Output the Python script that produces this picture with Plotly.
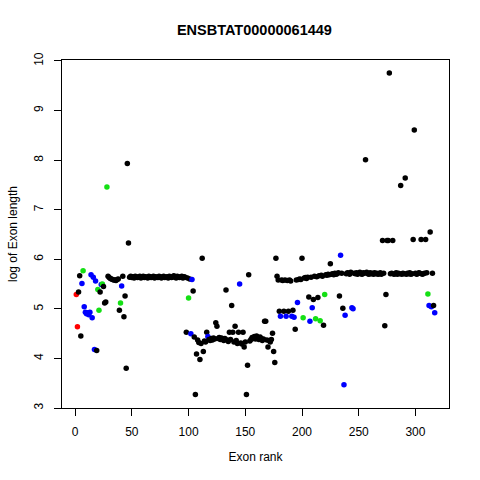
import plotly.graph_objects as go

# log exon length for exon ranks 1..317
log_length = [
    5.29, 4.64, 5.34, 5.67, 4.45, 5.51, 5.77, 5.04, 4.93, 4.90,
    4.92, 4.88, 4.93, 5.69, 4.82, 5.64, 4.18, 5.56, 4.16, 5.39,
    4.97, 5.34, 5.49, 5.50, 5.45, 5.12, 5.14, 7.46, 5.66, 5.63,
    5.61, 5.60, 5.59, 5.58, 5.58, 5.57, 5.59, 5.60, 4.97, 5.12,
    5.46, 5.66, 4.84, 5.26, 3.80, 7.93, 6.33,
    5.64, 5.66, 5.63, 5.65, 5.62, 5.66, 5.64, 5.63, 5.65, 5.66,
    5.62, 5.64, 5.66, 5.63, 5.65, 5.64, 5.62, 5.66, 5.65, 5.63,
    5.64, 5.66, 5.62, 5.65, 5.64, 5.63, 5.66, 5.64, 5.62, 5.65,
    5.66, 5.63, 5.64, 5.65, 5.62, 5.66, 5.64, 5.63, 5.65, 5.67,
    5.64, 5.62, 5.66, 5.65, 5.63, 5.64, 5.66, 5.62, 5.65, 5.64,
    4.53, 5.62, 5.22, 5.60, 4.50, 5.59, 5.36, 4.43, 3.27, 4.09,
    4.37, 4.32, 3.98, 4.30, 6.02, 4.14, 4.35, 4.33, 4.53, 4.44,
    4.38, 4.36, 4.40, 4.37, 4.41, 4.39, 4.72, 4.65, 4.40, 4.42,
    4.38, 4.41, 4.39, 4.36, 4.40, 5.38, 4.37, 4.34, 4.53, 4.38,
    5.07, 4.53, 4.33, 4.65, 4.36, 4.30, 4.53, 5.50, 4.31, 4.29,
    4.53, 4.23, 4.33, 3.27, 3.86, 5.69, 4.35, 4.38, 4.42, 4.40,
    4.44, 4.39, 4.45, 4.41, 4.38, 4.43, 4.40, 4.36, 4.39, 4.75,
    4.75, 4.37, 4.23, 4.36, 4.33, 4.38, 4.51, 4.14, 3.92, 6.02,
    5.66, 5.58, 4.95, 4.85, 5.58, 5.57, 4.95, 5.58, 4.85, 5.57,
    4.95, 5.58, 5.56, 4.85, 4.97, 4.83, 4.59, 5.58, 5.13, 5.59,
    5.60, 5.59, 6.02, 4.82, 5.62, 5.63, 5.61, 5.64, 5.24, 4.75,
    5.64, 5.02, 5.19, 5.66, 4.80, 5.65, 5.23, 5.67, 4.76, 5.68,
    5.66, 4.67, 5.29, 5.69, 5.68, 5.70, 5.69, 5.91, 5.70, 5.71,
    5.69, 5.72, 5.70, 5.71, 5.73, 5.26, 6.08, 5.72, 5.01, 3.47,
    4.87, 5.71, 5.73, 5.72, 5.70, 5.74, 5.02, 5.00, 5.72, 5.71,
    5.73, 5.70, 5.72, 5.74, 5.71, 5.70, 5.73, 5.72, 8.01, 5.74,
    5.71, 5.70, 5.73, 5.71, 5.72, 5.70, 5.73, 5.71, 5.72, 5.70,
    5.71, 5.73, 5.70, 6.38, 5.72, 4.66, 5.29, 6.38, 6.38, 9.76,
    5.71, 5.72, 6.38, 5.70, 5.71, 5.73, 5.70, 5.72, 5.71, 7.49,
    5.70, 5.72, 5.71, 7.64, 5.70, 5.72, 5.71, 5.73, 5.70, 5.71,
    6.40, 8.61, 5.72, 5.70, 5.71, 5.73, 5.72, 6.40, 5.70, 5.71,
    5.72, 6.40, 5.73, 5.30, 5.07, 6.55, 5.04, 5.72, 5.07, 4.92,
]
exon_rank = list(range(1, len(log_length) + 1))

red_ranks = [1, 2]
green_ranks = [7, 20, 21, 24, 28, 40, 100, 201, 212, 216, 220, 311]
blue_ranks = [6, 8, 9, 10, 11, 12, 13, 14, 15, 16, 17, 18, 23, 41, 102, 103,
              117, 145, 181, 186, 191, 193, 196, 207, 209, 234, 237, 238,
              244, 245, 312, 314, 317]

colors = []
for r in exon_rank:
    if r in red_ranks:
        colors.append("#ff0000")
    elif r in green_ranks:
        colors.append("#14e014")
    elif r in blue_ranks:
        colors.append("#0000ff")
    else:
        colors.append("#000000")

font = "Liberation Sans, Arial, Helvetica, sans-serif"

fig = go.Figure()
fig.add_trace(go.Scatter(
    x=exon_rank, y=log_length, mode="markers",
    marker=dict(color=colors, size=5.5, line=dict(width=0)),
    showlegend=False, hoverinfo="x+y"
))

fig.update_layout(
    width=480, height=480,
    margin=dict(l=59, r=31, t=60, b=72),
    paper_bgcolor="white", plot_bgcolor="white",
    font=dict(family=font, size=12, color="black"),
    title=dict(text="<b>ENSBTAT00000061449</b>", x=0.53, xanchor="center",
               y=0.938, yanchor="middle", font=dict(size=14.5, color="black")),
)
fig.update_xaxes(
    range=[-11.6, 329.6], tickvals=[0, 50, 100, 150, 200, 250, 300],
    showgrid=False, zeroline=False, showline=True, linecolor="black",
    linewidth=1, mirror=True, ticks="outside", ticklen=7, tickcolor="black",
    ticklabelstandoff=6,
    title=dict(text="Exon rank", standoff=14, font=dict(size=12)),
)
fig.update_yaxes(
    range=[3.0, 10.02], tickvals=[3, 4, 5, 6, 7, 8, 9, 10],
    showgrid=False, zeroline=False, showline=True, linecolor="black",
    linewidth=1, mirror=True, ticks="outside", ticklen=7, tickcolor="black",
    tickangle=-90, ticklabelstandoff=6,
    title=dict(text="log of Exon length", standoff=12, font=dict(size=12)),
)

# drop the default body margin so the figure sits at the window's corner
fig.write_html("out.html", config={"displayModeBar": False},
               post_script="document.body.style.margin='0';")
